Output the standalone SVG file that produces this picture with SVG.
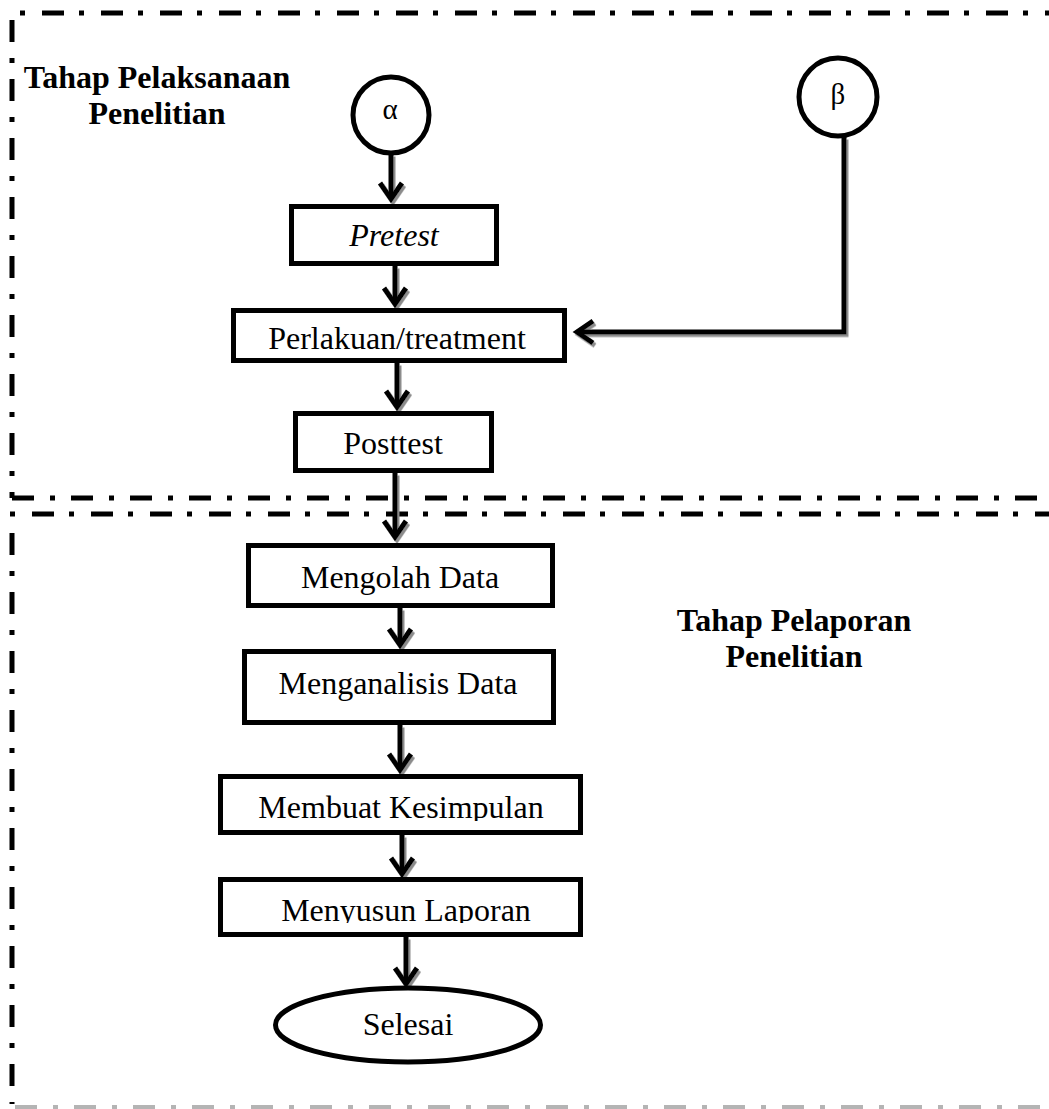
<svg xmlns="http://www.w3.org/2000/svg" width="1049" height="1109" viewBox="0 0 1049 1109">
<style>
text{font-family:"Liberation Serif","Times New Roman",serif;font-size:32px;fill:#000;text-anchor:middle}
.b{font-weight:bold}
.i{font-style:italic}
.sym{font-size:29px}
.box{fill:#fff;stroke:#000;stroke-width:5}
.bd{fill:none;stroke:#000;stroke-width:5}
.d1{stroke-dasharray:22 16 5 16}
.d2{stroke-dasharray:5 17 22 15}
.grey{stroke:#b4b4b4;stroke-width:4}
.con{fill:none;stroke:#000;stroke-width:5}
</style>
<defs>
<marker id="ah" markerUnits="userSpaceOnUse" viewBox="-20 -20 40 40" markerWidth="40" markerHeight="40" refX="0" refY="0" orient="auto" overflow="visible">
<path d="M-16,-11 L0,0 L-16,11" fill="none" stroke="#000" stroke-width="5"/>
</marker>
<filter id="sh" x="-20%" y="-20%" width="140%" height="140%">
<feDropShadow dx="2" dy="2.5" stdDeviation="0.3" flood-color="#8c8c8c" flood-opacity="1"/>
</filter>
<clipPath id="c1"><rect x="222" y="779" width="357" height="42"/></clipPath>
<clipPath id="c2"><rect x="222" y="882" width="357" height="41"/></clipPath>
</defs>
<g id="borders">
<path class="bd d2" d="M20,13 H1049"/>
<path class="bd d1" d="M12,20 V498"/>
<path class="bd d1" d="M12,498 H1049"/>
<path class="bd d2" d="M10,514 H1049"/>
<path class="bd d1" d="M12,533 V1104"/>
<path class="bd d1 grey" d="M15,1107 H1049"/>
</g>
<g id="labels">
<text class="b" x="157" y="88">Tahap Pelaksanaan</text>
<text class="b" x="157" y="124">Penelitian</text>
<text class="b" x="794" y="631">Tahap Pelaporan</text>
<text class="b" x="794" y="667">Penelitian</text>
</g>
<g id="connectors" filter="url(#sh)">
<path class="con" d="M391,154 V199" marker-end="url(#ah)"/>
<path class="con" d="M395,266 V304" marker-end="url(#ah)"/>
<path class="con" d="M397,363 V407" marker-end="url(#ah)"/>
<path class="con" d="M395,473 V537" marker-end="url(#ah)"/>
<path class="con" d="M400,608 V645" marker-end="url(#ah)"/>
<path class="con" d="M400,725 V770" marker-end="url(#ah)"/>
<path class="con" d="M402,835 V874" marker-end="url(#ah)"/>
<path class="con" d="M406,937 V984" marker-end="url(#ah)"/>
<path class="con" d="M844,137 V332 H577" marker-end="url(#ah)"/>
</g>
<g id="alpha">
<circle class="box" cx="391" cy="115" r="38"/>
<text class="sym" x="390" y="119">α</text>
</g>
<g id="beta">
<circle class="box" cx="838" cy="97" r="39"/>
<text class="sym" x="838" y="104">β</text>
</g>
<g id="pretest">
<rect class="box" x="291.5" y="206.5" width="205" height="57"/>
<text class="i" x="394" y="246">Pretest</text>
</g>
<g id="perlakuan">
<rect class="box" x="233.5" y="310.5" width="331" height="50"/>
<text x="397" y="349">Perlakuan/treatment</text>
</g>
<g id="posttest">
<rect class="box" x="295.5" y="413.5" width="196" height="57"/>
<text x="393" y="454">Posttest</text>
</g>
<g id="mengolah">
<rect class="box" x="248.5" y="545.5" width="304" height="60"/>
<text x="400" y="588">Mengolah Data</text>
</g>
<g id="menganalisis">
<rect class="box" x="244.5" y="651.5" width="309" height="71"/>
<text x="398" y="694">Menganalisis Data</text>
</g>
<g id="membuat">
<rect class="box" x="220.5" y="776.5" width="360" height="56"/>
<text x="401" y="818" clip-path="url(#c1)">Membuat Kesimpulan</text>
</g>
<g id="menyusun">
<rect class="box" x="220.5" y="879.5" width="360" height="55"/>
<text x="406" y="921" clip-path="url(#c2)">Menyusun Laporan</text>
</g>
<g id="selesai">
<ellipse class="box" cx="408" cy="1025" rx="132.5" ry="37"/>
<text x="408" y="1035">Selesai</text>
</g>
</svg>
